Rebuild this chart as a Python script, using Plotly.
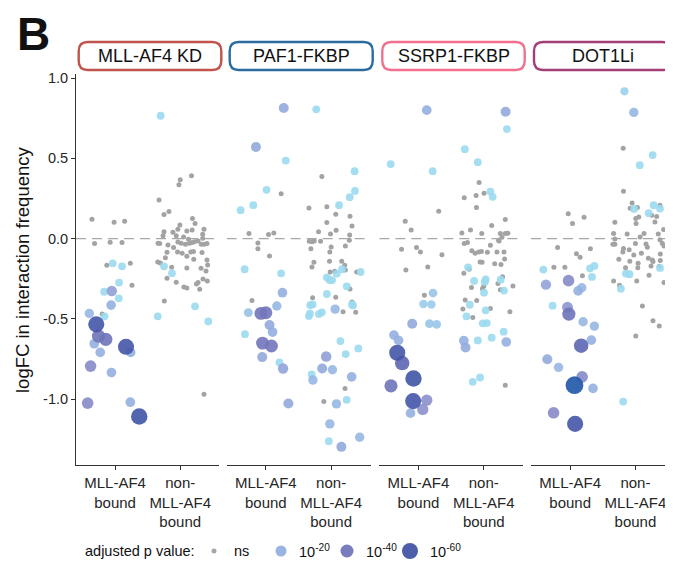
import plotly.graph_objects as go

# ---------------- data ----------------
facets = ["MLL-AF4 KD", "PAF1-FKBP", "SSRP1-FKBP", "DOT1Li"]
strip_colors = ["#c0544b", "#2b6ca0", "#f2708e", "#a43c78"]
categories = ["MLL-AF4<br>bound", "non-<br>MLL-AF4<br>bound"]
y_ticks = [-1.0, -0.5, 0.0, 0.5, 1.0]
y_tick_labels = ["-1.0", "-0.5", "0.0", "0.5", "1.0"]
legend_levels = [0, 20, 40, 60]
legend_labels = ["ns", "10<sup>-20</sup>", "10<sup>-40</sup>", "10<sup>-60</sup>"]

# -log10(adjusted p) per point (0 = ns); jitter = horizontal offset
kd_b_jitter = [-0.355, -0.015, 0.147, -0.315, -0.076, 0.107, -0.127, 0.234, 0.259, -0.198,
               -0.036, 0.107, 0.061, -0.168, 0.056, -0.162,
               -0.051, -0.061, -0.396, -0.320, -0.228, 0.239, -0.056, 0.234,
               -0.254, -0.142, -0.376, -0.421, -0.289, 0.168, 0.371]
kd_b_logfc = [0.121, 0.102, 0.108, -0.031, -0.023, -0.025, -0.166, -0.154, -0.291, -0.470,
              -0.154, -0.173, -0.274, -0.331, -0.372, -0.484,
              -0.326, -0.414, -0.466, -0.655, -0.709, -0.709, -0.834, -1.019,
              -0.607, -0.628, -0.794, -1.025, -0.534, -0.674, -1.108]
kd_b_sig = [0, 0, 0, 0, 0, 0, 0, 0, 0, 0,
            8, 8, 8, 8, 8, 8,
            25, 20, 18, 20, 20, 20, 20, 20,
            42, 42, 32, 32, 60, 60, 62]

kd_n_jitter = [-0.300, -0.249, -0.127, 0.228, -0.345, 0.431,
               0.173, 0.0, -0.020, -0.325, -0.249, -0.173, 0.188, 0.228, -0.005, -0.036,
               0.102, 0.183, 0.365, -0.249, -0.264, -0.112, -0.061, 0.051, 0.127, 0.218,
               0.274, 0.345, 0.345, -0.340, -0.315, -0.188, -0.102, -0.036, 0.015, 0.081,
               0.142, 0.183, 0.325, 0.365, 0.411, -0.203, -0.041, 0.030, 0.102, 0.162,
               0.203, 0.335, -0.228, -0.345, -0.305, 0.208, 0.102, 0.411, 0.421, 0.396,
               0.320, -0.132, -0.203, -0.061, 0.350, 0.416, 0.274, 0.249, 0.056, 0.102,
               0.299, -0.244, 0.365]
kd_n_logfc = [0.765, -0.173, -0.216, -0.422, -0.484, -0.516,
              0.391, 0.366, 0.335, 0.241, 0.150, 0.168, 0.125, 0.094, 0.085, 0.058,
              0.048, 0.054, 0.058, 0.042, 0.017, 0.040, 0.017, 0.010, -0.004, -0.019,
              -0.015, 0.027, 0.002, -0.029, -0.031, -0.040, -0.056, -0.021, -0.029, -0.035,
              -0.029, -0.025, -0.035, -0.035, -0.031, -0.085, -0.083, -0.091, -0.110, -0.083,
              -0.081, -0.087, -0.119, -0.146, -0.152, -0.129, -0.183, -0.133, -0.164, -0.202,
              -0.185, -0.179, -0.247, -0.272, -0.252, -0.264, -0.274, -0.283, -0.301, -0.308,
              -0.316, -0.389, -0.969]
kd_n_sig = [8, 8, 8, 8, 8, 8,
            0, 0, 0, 0, 0, 0, 0, 0, 0, 0, 0, 0, 0, 0, 0, 0, 0, 0, 0, 0, 0, 0, 0, 0,
            0, 0, 0, 0, 0, 0, 0, 0, 0, 0, 0, 0, 0, 0, 0, 0, 0, 0, 0, 0, 0, 0, 0, 0,
            0, 0, 0, 0, 0, 0, 0, 0, 0, 0, 0, 0, 0, 0, 0]

paf_b_jitter = [0.274, -0.152, 0.254, 0.168, -0.269, 0.056, 0.102, -0.056, 0.264, 0.345,
                0.305, 0.010, -0.193, -0.386, -0.325, 0.234, -0.320, 0.208,
                0.234, -0.259, 0.041, 0.122, -0.122, -0.122, 0.056, -0.213,
                -0.076, 0.0, -0.051, 0.086]
paf_b_logfc = [0.813, 0.570, -0.337, -0.420, -0.461, -0.538, -0.582, -0.738, -0.809, -1.027,
               0.486, 0.304, 0.208, 0.177, -0.191, -0.216, -0.595, -0.771,
               0.279, 0.031, 0.025, 0.035, -0.027, -0.064, -0.108, -0.385,
               -0.466, -0.462, -0.651, -0.669]
paf_b_sig = [22, 22, 20, 18, 15, 22, 20, 22, 24, 22,
             8, 8, 8, 8, 8, 8, 8, 8,
             0, 0, 0, 0, 0, 0, 0, 0,
             40, 40, 40, 40]

paf_n_jitter = [-0.228, 0.360, 0.365, 0.284, 0.122, 0.452, 0.168, 0.086, -0.066, -0.025,
                0.015, 0.239, -0.066, 0.320, 0.335, -0.320, -0.284, -0.340, -0.325, -0.188,
                -0.142, 0.142, 0.416, 0.223, -0.299, 0.239, -0.036,
                0.061, -0.076, -0.137, 0.020, 0.315, -0.279, 0.081, -0.020, 0.437, 0.157,
                -0.142, -0.340, -0.066, 0.071, 0.289, -0.066, 0.320, 0.076, -0.193, -0.010,
                0.284, 0.279, 0.218, -0.335, -0.294, -0.259, -0.162, 0.0, -0.020, -0.310,
                -0.025, 0.162, 0.208, 0.218, -0.264, -0.294, 0.391, -0.015, 0.056, 0.289,
                -0.284, 0.071, 0.183, 0.320, 0.376, 0.213, -0.112]
paf_n_logfc = [0.805, 0.420, 0.297, 0.258, 0.208, -0.208, -0.191, -0.218, -0.241, -0.258,
               -0.258, -0.297, -0.345, -0.410, -0.416, -0.414, -0.410, -0.482, -0.466, -0.470,
               -0.459, -0.638, -0.684, -0.719, -0.846, -1.004, -1.262,
               -0.439, -0.734, -0.809, -0.817, -0.861, -0.881, -1.029, -1.154, -1.237, -1.297,
               0.387, 0.191, 0.198, 0.152, 0.139, 0.100, 0.079, 0.052, 0.042, 0.029,
               0.023, -0.010, -0.046, -0.017, -0.019, -0.015, -0.017, -0.052, -0.083, -0.064,
               -0.141, -0.141, -0.166, -0.195, -0.148, -0.177, -0.208, -0.208, -0.204, -0.314,
               -0.368, -0.366, -0.455, -0.395, -0.459, -0.933, -1.015]
paf_n_sig = [8, 8, 8, 8, 8, 8, 8, 8, 8, 8, 8, 8, 8, 8, 8, 8, 8, 8, 8, 8, 8, 8, 8, 8, 8, 8, 8,
             18, 25, 22, 18, 20, 18, 18, 18, 18, 22,
             0, 0, 0, 0, 0, 0, 0, 0, 0, 0, 0, 0, 0, 0, 0, 0, 0, 0, 0, 0,
             0, 0, 0, 0, 0, 0, 0, 0, 0, 0, 0, 0, 0, 0, 0, 0, 0]

ssrp_b_jitter = [0.127, 0.218, -0.426, 0.223, 0.076, 0.198, -0.096, 0.168, 0.279, -0.376,
                 -0.305, -0.122, 0.066, 0.127,
                 -0.325, -0.249, -0.076, -0.421, -0.081,
                 0.310, -0.203, -0.112, -0.259, -0.030, 0.030, 0.360, -0.193, 0.142, 0.091]
ssrp_b_logfc = [0.800, 0.420, 0.464, -0.339, -0.407, -0.410, -0.530, -0.530, -0.534, -0.601,
                -0.634, -1.087, -1.064, -1.006,
                -0.711, -0.775, -0.871, -0.917, -1.012,
                0.170, 0.108, 0.054, -0.067, -0.056, -0.083, -0.100, -0.195, -0.177, -0.353]
ssrp_b_sig = [20, 8, 8, 14, 12, 12, 22, 14, 14, 20,
              20, 20, 30, 30,
              60, 50, 62, 42, 60,
              0, 0, 0, 0, 0, 0, 0, 0, 0, 0]

ssrp_n_jitter = [0.335, -0.305, -0.279, 0.345,
                 0.355, -0.289, -0.091, 0.102, 0.137, -0.239, -0.147, 0.030, 0.015, 0.259,
                 0.005, 0.310, -0.213, 0.030, -0.264, -0.015, 0.046, 0.305, 0.122, -0.091,
                 -0.168, -0.056,
                 -0.071, -0.299, -0.117, 0.005, -0.112, 0.330, 0.122, -0.203, -0.335, -0.030,
                 0.254, 0.330, 0.371, 0.279, 0.234, -0.299, -0.249, 0.102, 0.228, -0.183,
                 -0.132, -0.076, -0.036, 0.056, 0.203, 0.310, 0.320, -0.056, -0.025, 0.168,
                 0.264, -0.223, -0.305, 0.289, 0.218, 0.0, -0.020, 0.254, -0.188, 0.447,
                 -0.284, -0.107, -0.320, 0.102, -0.168, 0.401, 0.330]
ssrp_n_logfc = [0.790, -0.636, -0.678, -0.644,
                0.682, 0.557, 0.476, 0.293, 0.260, -0.179, -0.264, -0.254, -0.270, -0.256,
                -0.337, -0.324, -0.412, -0.447, -0.484, -0.528, -0.526, -0.580, -0.617, -0.634,
                -0.892, -0.865,
                0.349, 0.254, 0.268, 0.283, 0.193, 0.119, 0.081, 0.054, 0.035, 0.031,
                0.031, 0.031, 0.033, 0.008, -0.015, -0.031, -0.025, -0.042, -0.010, -0.075,
                -0.091, -0.083, -0.081, -0.085, -0.083, -0.083, -0.127, -0.146, -0.148, -0.156,
                -0.162, -0.191, -0.216, -0.237, -0.279, -0.297, -0.312, -0.318, -0.304, -0.295,
                -0.383, -0.385, -0.439, -0.435, -0.491, -0.455, -0.913]
ssrp_n_sig = [22, 20, 22, 20,
              8, 8, 8, 8, 8, 8, 8, 8, 8, 8, 8, 8, 8, 8, 8, 8, 8, 8, 8, 8, 8, 8,
              0, 0, 0, 0, 0, 0, 0, 0, 0, 0, 0, 0, 0, 0, 0, 0, 0, 0, 0, 0,
              0, 0, 0, 0, 0, 0, 0, 0, 0, 0, 0, 0, 0, 0, 0, 0, 0, 0, 0, 0,
              0, 0, 0, 0, 0, 0, 0]

dot_b_jitter = [-0.030, 0.213, 0.036, -0.193, 0.310, 0.096, 0.152, -0.249, -0.081, 0.188,
                -0.411, 0.305, 0.371, 0.335, -0.269,
                -0.371, 0.178, 0.122, 0.198, 0.371, 0.325, -0.350, -0.178, 0.350,
                -0.025, -0.041, -0.020, 0.183, -0.254,
                0.168, 0.066, 0.076]
dot_b_logfc = [0.154, 0.133, 0.094, -0.056, -0.064, -0.094, -0.116, -0.179, -0.179, -0.231,
               -0.193, -0.185, -0.170, -0.239, -0.418,
               -0.287, -0.306, -0.326, -0.518, -0.545, -0.632, -0.751, -0.802, -0.933,
               -0.262, -0.428, -0.470, -0.861, -1.085,
               -0.667, -0.913, -1.154]
dot_b_sig = [0, 0, 0, 0, 0, 0, 0, 0, 0, 0,
             8, 8, 8, 8, 8,
             24, 18, 20, 18, 18, 20, 22, 18, 20,
             32, 28, 42, 32, 32,
             50, 72, 60]

dot_n_jitter = [-0.168, 0.264, 0.066, 0.279, 0.376, 0.203, -0.020, -0.147, -0.091, -0.223,
                0.376, -0.188, -0.025,
                -0.188, -0.183, -0.051, 0.030, -0.081, 0.051, 0.005, 0.299, 0.376, 0.249,
                0.325, 0.010, -0.315, 0.431, 0.350, 0.132, -0.127, -0.335, 0.071, -0.315,
                -0.345, -0.315, 0.0, 0.162, 0.183, 0.376, 0.411, 0.437, -0.183, -0.096,
                -0.193, -0.025, 0.091, 0.198, 0.269, 0.381, 0.381, -0.254, -0.086, 0.259,
                0.041, -0.152, 0.036, 0.239, 0.365, 0.208, 0.020, -0.335, -0.244, 0.437,
                0.107, 0.269, 0.365, 0.005]
dot_n_logfc = [0.917, 0.520, 0.457, 0.208, 0.187, 0.158, 0.185, -0.218, -0.222, -0.312,
               -0.183, -1.015, 0.786,
               0.563, 0.295, 0.222, 0.193, 0.189, 0.135, 0.125, 0.104, 0.208, 0.146,
               0.137, 0.094, 0.102, 0.056, 0.029, 0.031, 0.029, 0.031, 0.010, -0.002,
               -0.035, -0.035, -0.031, -0.033, -0.054, -0.008, -0.029, -0.046, -0.062, -0.069,
               -0.083, -0.102, -0.091, -0.123, -0.143, -0.096, -0.137, -0.129, -0.141, -0.133,
               -0.154, -0.181, -0.181, -0.170, -0.173, -0.229, -0.264, -0.264, -0.291, -0.274,
               -0.420, -0.511, -0.545, -0.607]
dot_n_sig = [10, 8, 8, 8, 8, 8, 8, 8, 8, 8,
             8, 8, 18,
             0, 0, 0, 0, 0, 0, 0, 0, 0, 0, 0, 0, 0, 0, 0, 0, 0, 0, 0, 0,
             0, 0, 0, 0, 0, 0, 0, 0, 0, 0, 0, 0, 0, 0, 0, 0, 0, 0, 0, 0,
             0, 0, 0, 0, 0, 0, 0, 0, 0, 0, 0, 0, 0, 0]

panels = [
    [(kd_b_jitter, kd_b_logfc, kd_b_sig), (kd_n_jitter, kd_n_logfc, kd_n_sig)],
    [(paf_b_jitter, paf_b_logfc, paf_b_sig), (paf_n_jitter, paf_n_logfc, paf_n_sig)],
    [(ssrp_b_jitter, ssrp_b_logfc, ssrp_b_sig), (ssrp_n_jitter, ssrp_n_logfc, ssrp_n_sig)],
    [(dot_b_jitter, dot_b_logfc, dot_b_sig), (dot_n_jitter, dot_n_logfc, dot_n_sig)],
]

# ---------------- styling ----------------
OFF = 8                      # page body margin in the browser
W, H = 673 - OFF, 564 - OFF  # figure size
PLOT_TOP, PLOT_BOTTOM = 74, 465   # screen pixels
ML, MR = 76 - OFF, 0
MT = PLOT_TOP - OFF
MB = H - (PLOT_BOTTOM - OFF)
PW, PH = W - ML - MR, H - MT - MB
FONT = "Liberation Sans, Arial, sans-serif"
TXT = "#262626"
NS_COLOR = "#a3a3a3"
CMAX = 80
SIG_SCALE = [[0.0, "#a0e0f2"], [8 / CMAX, "#9bd9ef"], [20 / CMAX, "#95b0e0"],
             [30 / CMAX, "#8b90cc"], [40 / CMAX, "#7276ba"], [60 / CMAX, "#4555a7"],
             [72 / CMAX, "#1f57a8"], [1.0, "#1f57a8"]]

# panel pixel extents on screen (left, right)
panel_px = [(75.7, 219.3), (226.7, 370.7), (379.3, 522.7), (531.0, 673.0)]
strip_px = [(78.7, 221.3), (229.7, 372.7), (382.3, 524.7), (534.0, 671.0)]
unit_px = (219.3 - 75.7) / 2.2
Y_RANGE = [-1.41, 1.025]


def px_to_paper_x(px):
    return (px - OFF - ML) / PW


def py_to_paper_y(py):
    return (H - MB - (py - OFF)) / PH


def sig_size(s):
    return 5 if s == 0 else 6.5 + 0.16 * min(s, 70)


fig = go.Figure()
layout_axes = {}
for i, (name, col) in enumerate(zip(facets, strip_colors)):
    xa = "x" if i == 0 else f"x{i + 1}"
    xkey = "xaxis" if i == 0 else f"xaxis{i + 1}"
    left, right = panel_px[i]
    xr = [0.4, 0.4 + (right - left) / unit_px]
    layout_axes[xkey] = dict(
        domain=[max(0, px_to_paper_x(left)), min(1, px_to_paper_x(right))],
        range=xr, anchor="y", showline=True, linecolor="#333333", linewidth=1.1,
        ticks="outside", ticklen=4, tickcolor="#333333", tickwidth=1.1,
        tickvals=[1, 2], ticktext=categories, showgrid=False, zeroline=False,
        tickangle=0, tickfont=dict(family=FONT, size=15, color=TXT), fixedrange=True,
    )
    # dashed zero line
    fig.add_shape(type="line", xref=xa, yref="y", x0=xr[0], x1=xr[1], y0=0, y1=0,
                  line=dict(color="#a8a8a8", width=1.4, dash="10px,6px"), layer="below")
    # collect points, draw ns first then by increasing significance
    pts = []
    for c, (jit, fc, sg) in enumerate(panels[i]):
        for j, v, s in zip(jit, fc, sg):
            pts.append((s, c + 1 + j, v))
    pts.sort(key=lambda t: t[0])
    ns = [p for p in pts if p[0] == 0]
    sig = [p for p in pts if p[0] > 0]
    fig.add_trace(go.Scatter(
        x=[p[1] for p in ns], y=[p[2] for p in ns], xaxis=xa, yaxis="y", mode="markers",
        marker=dict(size=5, color=NS_COLOR, line=dict(width=0)), showlegend=False,
        hoverinfo="skip"))
    fig.add_trace(go.Scatter(
        x=[p[1] for p in sig], y=[p[2] for p in sig], xaxis=xa, yaxis="y", mode="markers",
        marker=dict(size=[sig_size(p[0]) for p in sig], color=[p[0] for p in sig],
                    colorscale=SIG_SCALE, cmin=0, cmax=CMAX, opacity=0.9,
                    line=dict(width=0)),
        showlegend=False, hoverinfo="skip"))

    # strip with rounded border
    sl, sr = strip_px[i]
    sw, hh, r = sr - sl, 14, 9
    path = (f"M {r},{-hh} L {sw - r},{-hh} Q {sw},{-hh} {sw},{-hh + r} "
            f"L {sw},{hh - r} Q {sw},{hh} {sw - r},{hh} L {r},{hh} Q 0,{hh} 0,{hh - r} "
            f"L 0,{-hh + r} Q 0,{-hh} {r},{-hh} Z")
    fig.add_shape(type="path", xref="paper", yref="paper", xsizemode="pixel",
                  ysizemode="pixel", xanchor=px_to_paper_x(sl), yanchor=py_to_paper_y(56),
                  path=path, line=dict(color=col, width=2.4), fillcolor="white")
    fig.add_annotation(x=px_to_paper_x((sl + sr) / 2), y=py_to_paper_y(56),
                       xref="paper", yref="paper",
                       text=name, showarrow=False, xanchor="center", yanchor="middle",
                       font=dict(family=FONT, size=18, color="#111111"))

fig.update_layout(
    width=W, height=H, margin=dict(l=ML, r=MR, t=MT, b=MB),
    plot_bgcolor="white", paper_bgcolor="white", showlegend=False,
    yaxis=dict(domain=[0, 1], range=Y_RANGE, anchor="x", showline=True,
               linecolor="#333333", linewidth=1.1, ticks="outside", ticklen=4,
               tickcolor="#333333", tickwidth=1.1, tickvals=y_ticks,
               ticktext=y_tick_labels, showgrid=False, zeroline=False,
               tickfont=dict(family=FONT, size=14.5, color=TXT), fixedrange=True),
    **layout_axes,
)

# y title
fig.add_annotation(x=px_to_paper_x(22), y=py_to_paper_y(270), xref="paper", yref="paper",
                   text="logFC in interaction frequency", textangle=-90, showarrow=False,
                   xanchor="center", yanchor="middle",
                   font=dict(family=FONT, size=18.5, color="#111111"))
# panel letter
fig.add_annotation(x=px_to_paper_x(15), y=py_to_paper_y(34), xref="paper", yref="paper",
                   text="<b>B</b>", showarrow=False, xanchor="left", yanchor="middle",
                   font=dict(family=FONT, size=46, color="#111111"))

# legend
LY = py_to_paper_y(551)
fig.add_annotation(x=px_to_paper_x(83), y=LY, xref="paper", yref="paper",
                   text="adjusted p value:", showarrow=False, xanchor="left",
                   yanchor="middle", font=dict(family=FONT, size=14.5, color="#111111"))
leg_dot_px = [214, 281, 347, 410]
leg_txt_px = [232, 297, 364, 428]
leg_diam = [5, 11, 13, 16]
leg_cols = [NS_COLOR, "#95b0e0", "#7276ba", "#4555a7"]
for lev, lab, dx, tx, d, colr in zip(legend_levels, legend_labels, leg_dot_px,
                                      leg_txt_px, leg_diam, leg_cols):
    fig.add_shape(type="circle", xref="paper", yref="paper", xsizemode="pixel",
                  ysizemode="pixel", xanchor=px_to_paper_x(dx), yanchor=LY,
                  x0=-d / 2, x1=d / 2, y0=-d / 2, y1=d / 2,
                  fillcolor=colr, line=dict(width=0), opacity=0.95)
    fig.add_annotation(x=px_to_paper_x(tx), y=LY, xref="paper", yref="paper",
                       text=lab, showarrow=False, xanchor="left", yanchor="middle",
                       font=dict(family=FONT, size=14.5, color="#111111"))

fig.write_html("out.html")
